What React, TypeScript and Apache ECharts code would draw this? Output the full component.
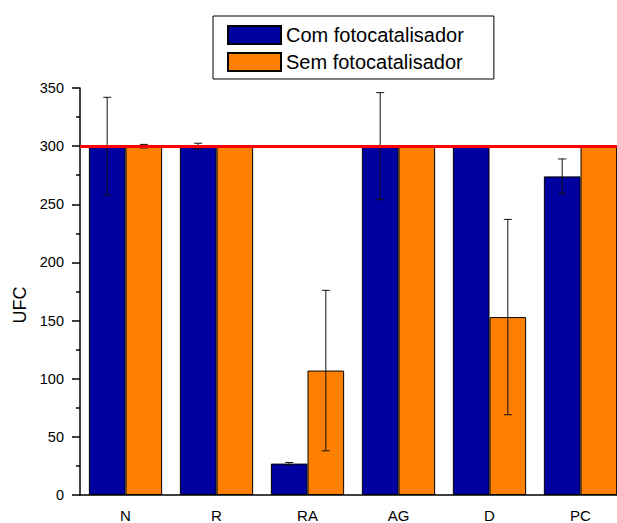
import React, { useEffect, useRef } from "react";
import * as echarts from "echarts";

const categories = ["N", "R", "RA", "AG", "D", "PC"];
const comValues = [300, 300, 27, 300, 300, 274];
const semValues = [300, 300, 107, 300, 153, 300];
const comErrors = [42, 2.5, 1, 46, 0, 15];
const semErrors = [1.5, 0, 69, 0, 84, 0];
const seriesNames = ["Com fotocatalisador", "Sem fotocatalisador"];
const yTicks = { min: 0, max: 350, interval: 50 };
const referenceLine = 300;

const BAR_FRAC = 0.4025;

function makeErrorSeries(values: number[], errors: number[], sign: number) {
  return {
    type: "custom",
    z: 4,
    silent: true,
    data: values.map((v, i) => [i, v, errors[i]]),
    encode: { x: 0, y: 1 },
    renderItem: (params: any, api: any) => {
      const idx = api.value(0);
      const v = api.value(1);
      const e = api.value(2);
      if (!e) return { type: "group", children: [] };
      const top = api.coord([idx, v + e]);
      const bot = api.coord([idx, v - e]);
      const band = api.size([1, 0])[0];
      const cx = top[0] + (sign * band * BAR_FRAC) / 2;
      const cap = 4;
      const style = { stroke: "#111", lineWidth: 1 };
      return {
        type: "group",
        children: [
          { type: "line", shape: { x1: cx, y1: top[1], x2: cx, y2: bot[1] }, style },
          { type: "line", shape: { x1: cx - cap, y1: top[1], x2: cx + cap, y2: top[1] }, style },
          { type: "line", shape: { x1: cx - cap, y1: bot[1], x2: cx + cap, y2: bot[1] }, style },
        ],
      };
    },
  };
}

export default function App() {
  const ref = useRef<HTMLDivElement>(null);
  useEffect(() => {
    if (!ref.current) return;
    const chart = echarts.init(ref.current, null, { renderer: "svg" });
    const font = "'Liberation Sans', Arial, sans-serif";
    chart.setOption({
      animation: false,
      textStyle: { fontFamily: font },
      grid: { left: 80, right: 0, top: 88, bottom: 27, containLabel: false },
      legend: {
        orient: "vertical",
        left: 213,
        top: 16,
        data: seriesNames,
        itemWidth: 53,
        itemHeight: 18,
        itemGap: 7,
        padding: [9, 30, 7, 14],
        borderColor: "#000",
        borderWidth: 1,
        textStyle: { fontSize: 20, lineHeight: 20, color: "#000", fontFamily: font },
        icon: "rect",
      },
      graphic: [
        {
          type: "text",
          x: 20,
          y: 305,
          rotation: Math.PI / 2,
          style: {
            text: "UFC",
            fontSize: 18,
            fontFamily: font,
            fill: "#000",
            textAlign: "center",
            textVerticalAlign: "middle",
          },
        },
      ],
      xAxis: {
        type: "category",
        data: categories,
        boundaryGap: true,
        axisLine: { lineStyle: { color: "#000", width: 1.5 } },
        axisTick: { alignWithLabel: true, length: 7, lineStyle: { color: "#000", width: 1.5 } },
        axisLabel: { fontSize: 15, color: "#000", margin: 13, fontFamily: font },
        splitLine: { show: false },
      },
      yAxis: {
        type: "value",
        min: yTicks.min,
        max: yTicks.max,
        interval: yTicks.interval,
        axisLine: { show: true, lineStyle: { color: "#000", width: 1.5 } },
        axisTick: { show: true, length: 8, lineStyle: { color: "#000", width: 1.5 } },
        minorTick: { show: true, splitNumber: 2, length: 4, lineStyle: { color: "#000", width: 1.5 } },
        axisLabel: { fontSize: 14.5, color: "#000", margin: 16, fontFamily: font },
        splitLine: { show: false },
      },
      series: [
        {
          name: seriesNames[0],
          type: "bar",
          data: comValues,
          barWidth: BAR_FRAC * 100 + "%",
          barGap: "0%",
          itemStyle: { color: "#0000A0", borderColor: "#000", borderWidth: 1 },
        },
        {
          name: seriesNames[1],
          type: "bar",
          data: semValues,
          barWidth: BAR_FRAC * 100 + "%",
          barGap: "0%",
          itemStyle: { color: "#FF8000", borderColor: "#000", borderWidth: 1 },
        },
        makeErrorSeries(comValues, comErrors, -1),
        {
          ...makeErrorSeries(semValues, semErrors, 1),
          markLine: {
            silent: true,
            symbol: "none",
            label: { show: false },
            lineStyle: { color: "#FF0000", width: 3, type: "solid" },
            data: [{ yAxis: referenceLine }],
          },
        },
      ],
    });
    return () => chart.dispose();
  }, []);
  return (
    <div
      style={{ position: "absolute", left: 0, top: 0, width: 617, height: 523, overflow: "hidden", background: "#fff" }}
    >
      <div ref={ref} style={{ width: 626, height: 523 }} />
    </div>
  );
}
